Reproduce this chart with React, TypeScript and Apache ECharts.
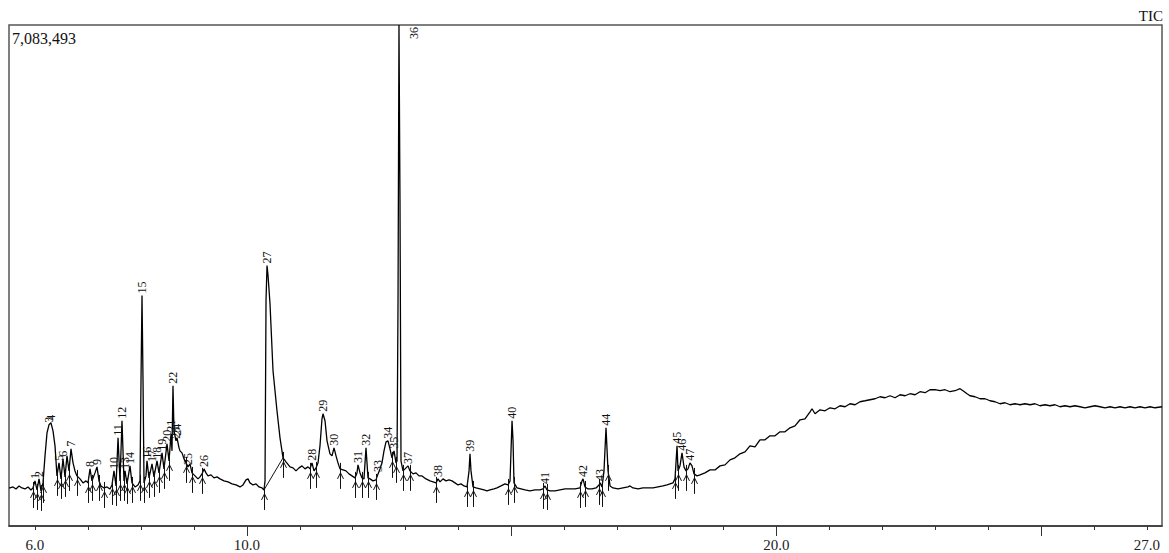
import React, { useEffect, useRef } from "react";
import * as echarts from "echarts";

// Full-scale intensity (counts) corresponding to 100 % on the y axis
const FULL_SCALE = 7083493;
const X_MIN = 5.509;
const X_MAX = 27.284;

const minorTicks = [6, 7, 8, 9, 10, 11, 12, 13, 14, 15, 16, 17, 18, 19, 20, 21, 22, 23, 24, 25, 26, 27];
const majorTicks = [10, 15, 20, 25];
const tickLabels = [6, 10, 20, 27];

// TIC trace: [retention time (min), relative intensity (% of full scale)]
const trace: [number, number][] = [
  [5.509, 7.6], [5.528, 7.6], [5.585, 7.8], [5.641, 7.4], [5.698, 8.0], [5.754, 7.6], [5.811, 7.4], [5.868, 7.8], [5.924, 7.2],
  [5.962, 7.6], [6.0, 9.0], [6.038, 7.2], [6.076, 9.4], [6.113, 7.0], [6.151, 8.6],
  [6.189, 14.0], [6.227, 18.6], [6.264, 20.2], [6.302, 20.6], [6.34, 19.0], [6.378, 16.0], [6.415, 10.0],
  [6.453, 12.6], [6.491, 9.4], [6.529, 13.4], [6.567, 9.8], [6.604, 14.0], [6.642, 11.0], [6.68, 15.4], [6.718, 12.6], [6.755, 11.0], [6.793, 10.0],
  [6.85, 9.4], [6.907, 8.6], [6.963, 9.0],
  [7.001, 8.6], [7.039, 11.4], [7.076, 9.0], [7.133, 10.6], [7.171, 11.8], [7.209, 9.0], [7.246, 8.0], [7.303, 7.6], [7.36, 7.8], [7.416, 7.4],
  [7.454, 8.2], [7.492, 11.0], [7.53, 8.0], [7.568, 17.6], [7.605, 9.0], [7.643, 21.0], [7.681, 9.0], [7.7, 11.0], [7.738, 8.4], [7.794, 12.0], [7.832, 8.6], [7.889, 7.8], [7.945, 8.2],
  [7.983, 9.0], [8.002, 29.0], [8.021, 46.0], [8.04, 29.0], [8.059, 8.6],
  [8.096, 10.0], [8.115, 13.0], [8.153, 9.6], [8.21, 12.4], [8.247, 9.8], [8.304, 13.0], [8.342, 10.6], [8.399, 14.6], [8.436, 11.4], [8.493, 16.4], [8.531, 13.0], [8.569, 18.4], [8.587, 15.0], [8.606, 28.0], [8.625, 19.0], [8.663, 17.0], [8.682, 17.6], [8.72, 15.6], [8.738, 15.0], [8.776, 14.6],
  [8.814, 13.4], [8.852, 12.6], [8.889, 11.8], [8.927, 12.4], [8.965, 10.6], [9.022, 10.0], [9.078, 9.4], [9.116, 9.8], [9.154, 10.4], [9.192, 11.4], [9.229, 10.6], [9.267, 10.0], [9.324, 10.2], [9.38, 9.6], [9.437, 9.8], [9.494, 9.4], [9.569, 9.0], [9.645, 8.8], [9.72, 8.4], [9.796, 8.2], [9.872, 7.8], [9.928, 8.2], [9.985, 9.2], [10.023, 9.4], [10.06, 8.6], [10.117, 8.2], [10.174, 8.4], [10.23, 7.8], [10.287, 7.6], [10.325, 7.2],
  [10.344, 9.0], [10.363, 45.0], [10.382, 52.0], [10.401, 50.0], [10.438, 44.4], [10.495, 31.0], [10.57, 23.0], [10.627, 17.6], [10.684, 13.6], [10.74, 12.8], [10.816, 11.8], [10.873, 11.6], [10.929, 11.0], [10.986, 11.6], [11.043, 12.0], [11.099, 11.4], [11.156, 11.8],
  [11.194, 11.4], [11.231, 12.6], [11.269, 11.0], [11.307, 11.6],
  [11.345, 12.6], [11.382, 16.0], [11.42, 21.4], [11.439, 22.4], [11.477, 21.0], [11.515, 17.0], [11.571, 14.4], [11.609, 14.0],
  [11.647, 15.6], [11.685, 14.0], [11.722, 12.6], [11.76, 11.4], [11.817, 11.2], [11.873, 11.0], [11.93, 10.4], [11.987, 10.0], [12.043, 9.6],
  [12.081, 10.6], [12.1, 12.2], [12.138, 10.6], [12.176, 9.6],
  [12.213, 9.4], [12.251, 15.6], [12.289, 9.6], [12.327, 9.4], [12.383, 9.0], [12.44, 9.2],
  [12.478, 10.4], [12.516, 11.4], [12.553, 12.6], [12.591, 15.0], [12.629, 16.8], [12.667, 17.0], [12.704, 15.4], [12.742, 13.6], [12.78, 15.0], [12.818, 12.6],
  [12.837, 13.0], [12.856, 45.0], [12.874, 100], [12.893, 65.0], [12.912, 13.0],
  [12.95, 11.0], [12.988, 11.4], [13.045, 12.0], [13.082, 11.0], [13.139, 10.4], [13.196, 10.6], [13.252, 10.0], [13.309, 10.0], [13.384, 9.4], [13.46, 9.0], [13.517, 8.8], [13.573, 8.6], [13.611, 9.4], [13.649, 8.8], [13.705, 9.4], [13.762, 9.0], [13.819, 9.2], [13.875, 9.0], [13.932, 8.6], [13.989, 8.2], [14.045, 8.4], [14.102, 8.0], [14.159, 7.8],
  [14.197, 11.0], [14.215, 14.4], [14.234, 11.0], [14.272, 7.8], [14.329, 7.6], [14.404, 7.4], [14.48, 7.2], [14.536, 7.0], [14.593, 7.2], [14.669, 7.4], [14.725, 7.6], [14.801, 8.0], [14.876, 8.4], [14.933, 8.2], [14.971, 9.0],
  [14.99, 15.0], [15.009, 21.0], [15.028, 17.0], [15.046, 8.6], [15.103, 7.6], [15.179, 7.4], [15.254, 7.2], [15.349, 7.0], [15.443, 7.2], [15.537, 7.2], [15.594, 7.4], [15.632, 8.0], [15.67, 7.2], [15.726, 7.0], [15.821, 7.0], [15.915, 7.2], [16.01, 7.4], [16.104, 7.4], [16.199, 7.4], [16.293, 7.6],
  [16.331, 9.0], [16.35, 9.4], [16.387, 7.8], [16.444, 7.4], [16.52, 7.4], [16.595, 7.6], [16.652, 8.2], [16.671, 8.6], [16.709, 7.8], [16.746, 11.0], [16.784, 19.6], [16.822, 11.0], [16.86, 8.0], [16.916, 7.6], [17.011, 7.4], [17.105, 7.6], [17.199, 7.8], [17.237, 8.0], [17.294, 7.6], [17.388, 7.4], [17.483, 7.6], [17.577, 7.6], [17.672, 7.6], [17.766, 7.8], [17.86, 8.0], [17.936, 8.2], [17.992, 8.4], [18.049, 8.6], [18.087, 9.4],
  [18.125, 16.0], [18.144, 11.0], [18.181, 12.0], [18.219, 14.6], [18.257, 11.8], [18.295, 11.0], [18.332, 11.4], [18.37, 12.6], [18.408, 12.0], [18.446, 10.4], [18.502, 10.0], [18.559, 10.2],
  [18.653, 10.6], [18.748, 11.2], [18.842, 11.2], [18.937, 12.0], [19.031, 12.2], [19.126, 13.2], [19.22, 13.6], [19.314, 14.4], [19.409, 14.8], [19.503, 16.0], [19.598, 15.8], [19.692, 17.2], [19.787, 17.2], [19.881, 18.0], [19.976, 18.0],
  [20.07, 18.8], [20.164, 18.8], [20.259, 19.6], [20.353, 20.0], [20.448, 21.2], [20.542, 21.4], [20.637, 22.8], [20.674, 23.4], [20.731, 22.4], [20.826, 23.2], [20.92, 23.0], [21.014, 23.6], [21.109, 23.4], [21.203, 24.0], [21.298, 23.8], [21.392, 24.4], [21.487, 24.2], [21.581, 24.8], [21.676, 25.0], [21.77, 25.2], [21.864, 25.4], [21.959, 25.8],
  [22.053, 25.6], [22.148, 26.0], [22.242, 25.6], [22.337, 26.2], [22.431, 26.0], [22.525, 26.4], [22.62, 26.2], [22.714, 26.8], [22.809, 26.6], [22.903, 27.2], [22.998, 27.2], [23.092, 27.0], [23.187, 27.2], [23.281, 26.8], [23.375, 27.0], [23.47, 27.4], [23.526, 27.0], [23.602, 26.4], [23.658, 26.0], [23.753, 25.8], [23.847, 25.4], [23.942, 25.4],
  [24.036, 25.0], [24.131, 24.8], [24.225, 24.4], [24.32, 24.6], [24.414, 24.2], [24.508, 24.4], [24.603, 24.2], [24.697, 24.4], [24.792, 24.2], [24.886, 24.4], [24.98, 24.0], [25.075, 24.2], [25.169, 24.0], [25.264, 24.2], [25.358, 23.8], [25.453, 24.0], [25.547, 23.8], [25.641, 24.0], [25.736, 23.8], [25.83, 23.6], [25.925, 23.8],
  [26.019, 24.0], [26.113, 23.8], [26.208, 23.6], [26.302, 23.8], [26.397, 23.6], [26.491, 23.8], [26.585, 23.6], [26.68, 23.8], [26.775, 23.6], [26.869, 23.8], [26.963, 23.6], [27.058, 23.8], [27.152, 23.6], [27.285, 23.8],
];

// Peak numbers and their apex positions
const peakIds = [1, 2, 3, 4, 5, 6, 7, 8, 9, 10, 11, 12, 13, 14, 15, 16, 17, 18, 19, 20, 21, 22, 23, 24, 25, 26, 27, 28, 29, 30, 31, 32, 33, 34, 35, 36, 37, 38, 39, 40, 41, 42, 43, 44, 45, 46, 47];
const peakTimes = [6.0, 6.076, 6.264, 6.302, 6.453, 6.529, 6.68, 7.039, 7.171, 7.492, 7.568, 7.643, 7.7, 7.794, 8.021, 8.115, 8.21, 8.304, 8.399, 8.493, 8.569, 8.606, 8.663, 8.682, 8.889, 9.192, 10.382, 11.231, 11.439, 11.647, 12.1, 12.251, 12.478, 12.667, 12.78, 12.874, 13.045, 13.611, 14.215, 15.009, 15.632, 16.35, 16.671, 16.784, 18.125, 18.219, 18.37];
const peakRel = [9.0, 9.4, 20.2, 20.6, 12.6, 13.4, 15.4, 11.4, 11.8, 11.0, 17.6, 21.0, 11.0, 12.0, 46.0, 13.0, 12.4, 13.0, 14.6, 16.4, 18.4, 28.0, 17.0, 17.6, 11.8, 11.4, 52.0, 12.6, 22.4, 15.6, 12.2, 15.6, 10.4, 17.0, 15.0, 100, 12.0, 9.4, 14.4, 21.0, 8.0, 9.4, 8.6, 19.6, 16.0, 14.6, 12.6];

// Integration start / end marks (min)
const markTimes = [5.962, 6.038, 6.113, 6.151, 6.415, 6.491, 6.567, 6.642, 6.793, 7.001, 7.076, 7.209, 7.303, 7.454, 7.53, 7.605, 7.681, 7.738, 7.832, 7.983, 8.059, 8.153, 8.247, 8.342, 8.436, 8.531, 8.852, 8.965, 9.154, 10.325, 10.684, 11.194, 11.307, 11.76, 12.043, 12.176, 12.289, 12.44, 12.742, 12.818, 12.95, 13.082, 13.573, 14.159, 14.272, 14.933, 15.046, 15.594, 15.67, 16.293, 16.387, 16.652, 16.709, 16.822, 18.087, 18.144, 18.295, 18.446];

// Drawn integration baseline under peak 27
const baseline27: [number, number][] = [[10.325, 7.2], [10.684, 13.6]];

function interp(t: number): number {
  for (let i = 1; i < trace.length; i++) {
    if (trace[i][0] >= t) {
      const [t0, v0] = trace[i - 1];
      const [t1, v1] = trace[i];
      return v0 + ((v1 - v0) * (t - t0)) / (t1 - t0 || 1);
    }
  }
  return trace[trace.length - 1][1];
}

const SERIF = '"Liberation Serif", "Times New Roman", serif';

export default function App() {
  const ref = useRef<HTMLDivElement>(null);
  useEffect(() => {
    const chart = echarts.init(ref.current!, null, { renderer: "svg" });
    const peakData = peakIds.map((id, i) => [peakTimes[i], peakRel[i], id]);
    const markData = markTimes.map((t) => [t, interp(t)]);
    const option: any = {
      animation: false,
      backgroundColor: "#fff",
      grid: {
        left: 9,
        right: 7,
        top: 25,
        bottom: 27,
        show: true,
        borderColor: "#555",
        borderWidth: 1.5,
        containLabel: false,
        outerBoundsMode: "none",
      },
      xAxis: [
        {
          type: "value",
          min: X_MIN,
          max: X_MAX,
          position: "bottom",
          axisLine: { show: true, lineStyle: { color: "#333", width: 1.5 } },
          axisTick: { show: true, customValues: minorTicks, length: 4, lineStyle: { color: "#333", width: 1 } },
          axisLabel: { show: false },
          splitLine: { show: false },
        },
        {
          type: "value",
          min: X_MIN,
          max: X_MAX,
          position: "bottom",
          axisLine: { show: false },
          axisTick: { show: true, customValues: majorTicks, length: 10, lineStyle: { color: "#333", width: 1 } },
          axisLabel: {
            show: true,
            customValues: tickLabels,
            formatter: (v: number) => v.toFixed(1),
            margin: 11,
            fontFamily: SERIF,
            fontSize: 15,
            color: "#222",
          },
          splitLine: { show: false },
        },
      ],
      yAxis: { type: "value", min: 0, max: 100, show: false },
      graphic: [
        {
          type: "text",
          left: 12,
          top: 30,
          style: { text: FULL_SCALE.toLocaleString("en-US"), font: `16px ${SERIF}`, fill: "#111" },
        },
        {
          type: "text",
          right: 6,
          top: 8,
          style: { text: "TIC", font: `15px ${SERIF}`, fill: "#111" },
        },
      ],
      series: [
        {
          type: "line",
          name: "TIC",
          data: trace,
          symbol: "none",
          lineStyle: { color: "#000", width: 1.3 },
          z: 3,
        },
        {
          type: "line",
          name: "baseline",
          data: baseline27,
          symbol: "none",
          lineStyle: { color: "#111", width: 1 },
          z: 3,
        },
        {
          type: "custom",
          name: "marks",
          data: markData,
          silent: true,
          z: 4,
          renderItem: (params: any, api: any) => {
            const p = api.coord([api.value(0), api.value(1)]);
            const x = Math.round(p[0]) + 0.5;
            const y = p[1];
            return {
              type: "group",
              children: [
                { type: "line", shape: { x1: x, y1: y - 6, x2: x, y2: y + 20 }, style: { stroke: "#111", lineWidth: 1 } },
                {
                  type: "polyline",
                  shape: { points: [[x - 3, y + 10], [x, y + 4], [x + 3, y + 10]] },
                  style: { stroke: "#111", fill: null, lineWidth: 1 },
                },
              ],
            };
          },
        },
        {
          type: "custom",
          name: "peaks",
          data: peakData,
          silent: true,
          clip: false,
          z: 5,
          renderItem: (params: any, api: any) => {
            const p = api.coord([api.value(0), api.value(1)]);
            const id = String(api.value(2));
            const top = params.coordSys.y;
            let x = p[0];
            let y = p[1] - 2;
            if (y - id.length * 6 < top) {
              x = p[0] + 15;
              y = top + 14;
            }
            return {
              type: "text",
              x,
              y,
              rotation: Math.PI / 2,
              style: { text: id, font: `12px ${SERIF}`, fill: "#111", align: "left", verticalAlign: "middle" },
            };
          },
        },
      ],
    };
    chart.setOption(option);
    return () => chart.dispose();
  }, []);
  return (
    <div
      ref={ref}
      style={{ position: "fixed", left: 0, top: 0, width: 1169, height: 553, background: "#fff" }}
    />
  );
}
